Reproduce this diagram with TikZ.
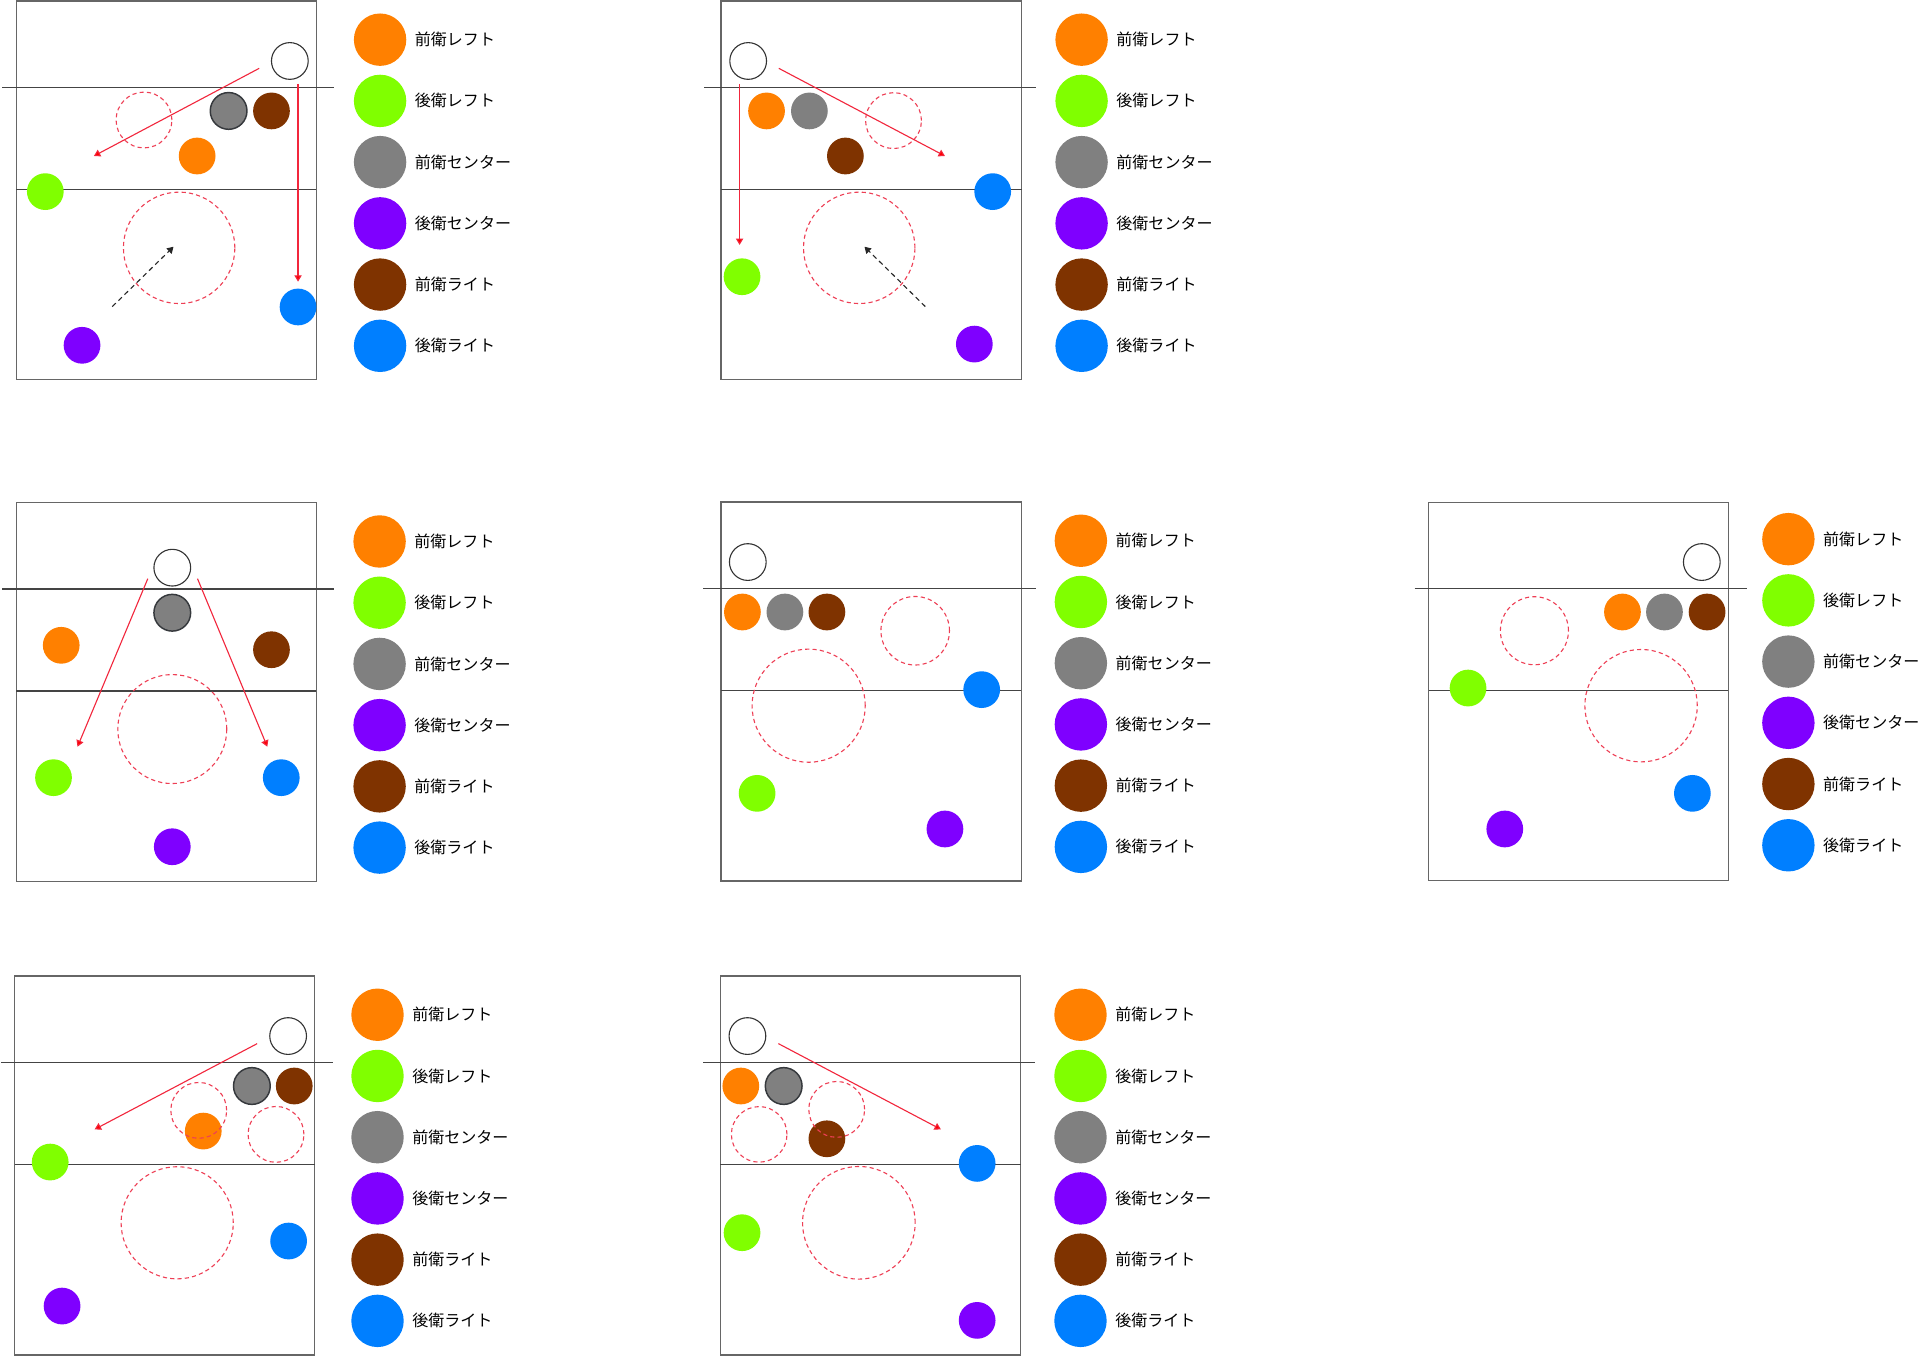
\documentclass[tikz,border=0pt]{standalone}
\usepackage{fontspec}
\newfontfamily\jpfont{Noto Sans CJK JP}
\usetikzlibrary{arrows.meta}
\definecolor{cOrange}{HTML}{FF8000}
\definecolor{cGreen}{HTML}{80FF00}
\definecolor{cGray}{HTML}{808080}
\definecolor{cPurple}{HTML}{7F00FF}
\definecolor{cBrown}{HTML}{7F3300}
\definecolor{cBlue}{HTML}{007FFF}
\definecolor{cStroke}{HTML}{36393D}
\definecolor{cZone}{HTML}{EE3F55}
\definecolor{cArrow}{HTML}{F2263C}
\definecolor{cCourt}{HTML}{666666}
\definecolor{cNet}{HTML}{444444}
\tikzset{
  player/.style={circle, inner sep=0pt, minimum size=15pt, draw=none},
  pFL/.style={player, fill=cOrange},
  pBL/.style={player, fill=cGreen},
  pFC/.style={player, fill=cGray},
  pFCs/.style={pFC, draw=cStroke, line width=0.6pt},
  pBC/.style={player, fill=cPurple},
  pFR/.style={player, fill=cBrown},
  pBR/.style={player, fill=cBlue},
  ball/.style={player, fill=white, draw=black!80, line width=0.45pt},
  zone/.style={circle, inner sep=0pt, draw=cZone, line width=0.45pt, dash pattern=on 1.7pt off 1.3pt},
  court/.style={draw=cCourt, line width=0.6pt},
  netline/.style={draw=cNet, line width=0.5pt},
  move/.style={draw=cArrow, line width=0.45pt, -{Triangle[length=2.6pt,width=3pt,fill=red]}},
  hint/.style={draw=black!85, line width=0.45pt, dash pattern=on 2pt off 1.5pt, -{Triangle[length=2.6pt,width=3pt]}},
  lgd/.style={circle, inner sep=0pt, minimum size=21.4pt, draw=none},
  lgdtext/.style={anchor=west, inner sep=0pt, font=\jpfont\fontsize{6.55pt}{8pt}\selectfont, text=black},
}
\newcommand\mylegend[3]{%
  \node[lgd, fill=cOrange] (#1-c1) at ({#2},{#3}) {};
  \node[lgd, fill=cGreen]  (#1-c2) at ({#2},{#3+50}) {};
  \node[lgd, fill=cGray]   (#1-c3) at ({#2},{#3+100}) {};
  \node[lgd, fill=cPurple] (#1-c4) at ({#2},{#3+150}) {};
  \node[lgd, fill=cBrown]  (#1-c5) at ({#2},{#3+200}) {};
  \node[lgd, fill=cBlue]   (#1-c6) at ({#2},{#3+250}) {};
  \node[lgdtext] (#1-t1) at ({#2+28},{#3}) {前衛レフト};
  \node[lgdtext] (#1-t2) at ({#2+28},{#3+50}) {後衛レフト};
  \node[lgdtext] (#1-t3) at ({#2+28},{#3+100}) {前衛センター};
  \node[lgdtext] (#1-t4) at ({#2+28},{#3+150}) {後衛センター};
  \node[lgdtext] (#1-t5) at ({#2+28},{#3+200}) {前衛ライト};
  \node[lgdtext] (#1-t6) at ({#2+28},{#3+250}) {後衛ライト};
}
\begin{document}
\begin{tikzpicture}[x=0.5pt, y=-0.5pt]
\fill[white] (0,0) rectangle (1568,1107.4);
\useasboundingbox (0,0) rectangle (1568,1107.4);

% ================= Panel 1 =================
\draw[court] (13.3,0.8) rectangle (258.3,310);
\draw[netline] (1.7,71.6) -- (273,71.6);
\draw[netline] (13.3,154.6) -- (258.3,154.6);
\node[ball] (p1-ball) at (236.7,49.8) {};
\node[pFCs] (p1-fc) at (186.7,90.6) {};
\node[pFR] (p1-fr) at (221.7,90.6) {};
\node[pFL] (p1-fl) at (161,127.4) {};
\node[pBL] (p1-bl) at (37,156.5) {};
\node[pBR] (p1-br) at (243.4,250.7) {};
\node[pBC] (p1-bc) at (67,282) {};
\node[zone, minimum size=22.8pt] (p1-z1) at (117.6,98) {};
\node[zone, minimum size=45.5pt] (p1-z2) at (146.3,202.4) {};
\coordinate (p1-a1s) at (211.7,55.8);
\coordinate (p1-a1e) at (76.7,127.4);
\coordinate (p1-a2s) at (243.4,68.6);
\coordinate (p1-a2e) at (243.4,230);
\coordinate (p1-h1s) at (91.7,250.4);
\coordinate (p1-h1e) at (141.7,201.5);
\draw[move] (p1-a1s) -- (p1-a1e);
\draw[move] (p1-a2s) -- (p1-a2e);
\draw[hint] (p1-h1s) -- (p1-h1e);
\mylegend{l1}{310.4}{32.4}

% ================= Panel 2 =================
\draw[court] (589,0.8) rectangle (834.3,310);
\draw[netline] (575,71.6) -- (845.7,71.6);
\draw[netline] (589,154.6) -- (834.3,154.6);
\node[ball] (p2-ball) at (611,49.8) {};
\node[pFL] (p2-fl) at (626,90.6) {};
\node[pFC] (p2-fc) at (661,90.6) {};
\node[pFR] (p2-fr) at (690.4,127.4) {};
\node[pBR] (p2-br) at (810.7,156.5) {};
\node[pBL] (p2-bl) at (606,226) {};
\node[pBC] (p2-bc) at (795.7,281) {};
\node[zone, minimum size=22.8pt] (p2-z1) at (729.7,98.5) {};
\node[zone, minimum size=45.5pt] (p2-z2) at (701.7,202.4) {};
\coordinate (p2-a1s) at (636,55.8);
\coordinate (p2-a1e) at (771.7,127.4);
\coordinate (p2-a2s) at (604,68.6);
\coordinate (p2-a2e) at (604,200);
\coordinate (p2-h1s) at (755.7,250.4);
\coordinate (p2-h1e) at (706,201.5);
\draw[move] (p2-a1s) -- (p2-a1e);
\draw[move] (p2-a2s) -- (p2-a2e);
\draw[hint] (p2-h1s) -- (p2-h1e);
\mylegend{l2}{883.3}{32.4}

% ================= Panel 3 =================
\draw[court] (13.3,410.5) rectangle (258.3,720);
\draw[netline] (1.7,481) -- (273,481);
\draw[netline] (13.3,564.3) -- (258.3,564.3);
\node[ball] (p3-ball) at (140.7,463.6) {};
\node[pFCs] (p3-fc) at (140.7,500.4) {};
\node[pFL] (p3-fl) at (50,527) {};
\node[pFR] (p3-fr) at (221.7,530.6) {};
\node[pBL] (p3-bl) at (43.7,635.1) {};
\node[pBR] (p3-br) at (229.7,635.1) {};
\node[pBC] (p3-bc) at (140.7,691.5) {};
\node[zone, minimum size=44.5pt] (p3-z1) at (140.7,595.4) {};
\coordinate (p3-a1s) at (120.7,472.6);
\coordinate (p3-a1e) at (63.3,609.8);
\coordinate (p3-a2s) at (161.3,472.6);
\coordinate (p3-a2e) at (218.3,609.8);
\draw[move] (p3-a1s) -- (p3-a1e);
\draw[move] (p3-a2s) -- (p3-a2e);
\mylegend{l3}{310}{442.2}

% ================= Panel 4 =================
\draw[court] (589,410) rectangle (834,719.5);
\draw[netline] (574.4,480.7) -- (845.7,480.7);
\draw[netline] (589,564) -- (834,564);
\node[ball] (p4-ball) at (610.7,459) {};
\node[pFL] (p4-fl) at (606.3,499.8) {};
\node[pFC] (p4-fc) at (641,499.8) {};
\node[pFR] (p4-fr) at (675.3,499.8) {};
\node[pBR] (p4-br) at (801.7,563.2) {};
\node[pBL] (p4-bl) at (618.3,647.9) {};
\node[pBC] (p4-bc) at (771.7,677) {};
\node[zone, minimum size=28pt] (p4-z1) at (747.4,515.1) {};
\node[zone, minimum size=46.2pt] (p4-z2) at (660.4,576.3) {};
\mylegend{l4}{882.7}{441.6}

% ================= Panel 5 =================
\draw[court] (1166.8,410.2) rectangle (1411.5,719.2);
\draw[netline] (1155.3,480.7) -- (1426.5,480.7);
\draw[netline] (1166.8,564) -- (1411.5,564);
\node[ball] (p5-ball) at (1389.8,459) {};
\node[pFL] (p5-fl) at (1325,499.8) {};
\node[pFC] (p5-fc) at (1359.3,499.8) {};
\node[pFR] (p5-fr) at (1394.1,499.8) {};
\node[pBL] (p5-bl) at (1198.9,561.9) {};
\node[pBR] (p5-br) at (1382.1,647.9) {};
\node[pBC] (p5-bc) at (1228.9,677) {};
\node[zone, minimum size=27.8pt] (p5-z1) at (1253.1,515.1) {};
\node[zone, minimum size=45.9pt] (p5-z2) at (1340.2,576.3) {};
\mylegend{l5}{1460.5}{440.3}

% ================= Panel 6 =================
\draw[court] (12,797.1) rectangle (257,1106.6);
\draw[netline] (0.7,867.9) -- (272.3,867.9);
\draw[netline] (12,951.2) -- (257,951.2);
\node[ball] (p6-ball) at (235.3,846.1) {};
\node[pFCs] (p6-fc) at (205.7,886.9) {};
\node[pFR] (p6-fr) at (240.3,886.9) {};
\node[pFL] (p6-fl) at (166,923.7) {};
\node[pBL] (p6-bl) at (41,949) {};
\node[pBR] (p6-br) at (235.7,1013.5) {};
\node[pBC] (p6-bc) at (50.7,1066.6) {};
\node[zone, minimum size=22.8pt] (p6-z1) at (162.3,906.8) {};
\node[zone, minimum size=22.8pt] (p6-z2) at (225.4,926.4) {};
\node[zone, minimum size=45.8pt] (p6-z3) at (144.7,998.6) {};
\coordinate (p6-a1s) at (210,852.3);
\coordinate (p6-a1e) at (77.3,922.3);
\draw[move] (p6-a1s) -- (p6-a1e);
\mylegend{l6}{308.3}{828.7}

% ================= Panel 7 =================
\draw[court] (588.3,797.1) rectangle (833.4,1106.6);
\draw[netline] (574.4,867.9) -- (845,867.9);
\draw[netline] (588.3,951.2) -- (833.4,951.2);
\node[ball] (p7-ball) at (610.4,846.1) {};
\node[pFL] (p7-fl) at (605,886.9) {};
\node[pFCs] (p7-fc) at (640,886.9) {};
\node[pFR] (p7-fr) at (675.3,930) {};
\node[pBR] (p7-br) at (798,950.1) {};
\node[pBL] (p7-bl) at (606,1006.7) {};
\node[pBC] (p7-bc) at (798,1078.3) {};
\node[zone, minimum size=22.7pt] (p7-z1) at (620,926.4) {};
\node[zone, minimum size=22.8pt] (p7-z2) at (683.3,906) {};
\node[zone, minimum size=46pt] (p7-z3) at (701.4,998.6) {};
\coordinate (p7-a1s) at (635.7,852.3);
\coordinate (p7-a1e) at (768.4,922.3);
\draw[move] (p7-a1s) -- (p7-a1e);
\mylegend{l7}{882.4}{828.7}
\end{tikzpicture}
\end{document}
